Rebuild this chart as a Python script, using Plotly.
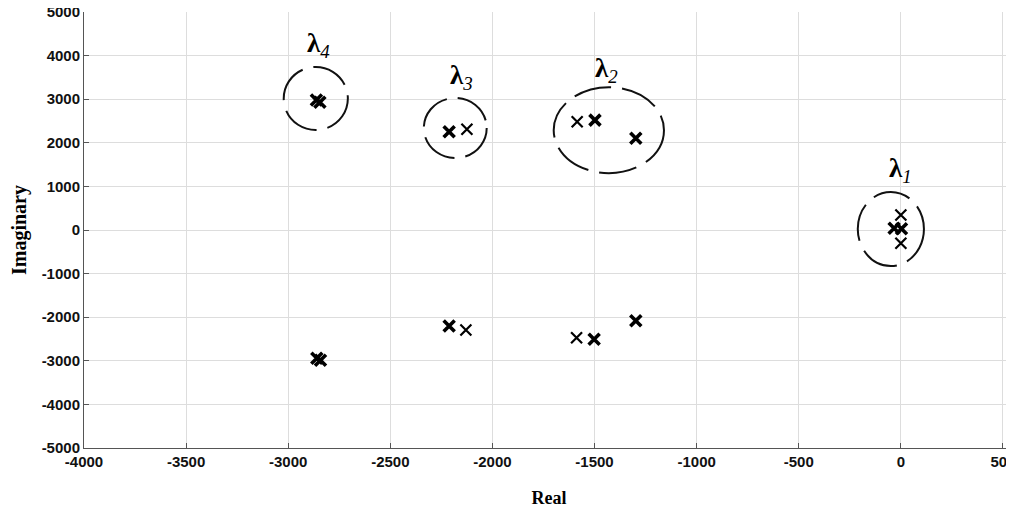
import numpy as np
import plotly.graph_objects as go

# Poles (real, imaginary)
pole_real = [-2862, -2845, -2860, -2842,
             -2212, -2125, -2212, -2130,
             -1585, -1498, -1298, -1588, -1502, -1298,
             0, -33, 3, 0]
pole_imag = [2980, 2930, -2940, -2985,
             2255, 2310, -2202, -2294,
             2484, 2520, 2103, -2470, -2507, -2080,
             344, 39, 30, -305]
pole_bold = [1, 1, 1, 1,
             1, 0, 1, 0,
             0, 1, 1, 0, 1, 1,
             0, 1, 1, 0]

# Cluster regions (centre real, centre imag, half-width real, half-height imag)
clu_names = ["λ4", "λ3", "λ2", "λ1"]
clu_cx = [-2865, -2182, -1430, -49]
clu_cy = [3016, 2339, 2290, 23]
clu_rx = [157, 154, 270, 162]
clu_ry = [722, 688, 986, 849]
lab_x = [-2850, -2150, -1440, 0]
lab_y = [4250, 3500, 3680, 1380]
lab_sub = ["4", "3", "2", "1"]

xticks = list(range(-4000, 501, 500))
yticks = list(range(-5000, 5001, 1000))

fig = go.Figure()

for cx, cy, rx, ry in zip(clu_cx, clu_cy, clu_rx, clu_ry):
    fig.add_shape(type="circle", xref="x", yref="y",
                  x0=cx - rx, x1=cx + rx, y0=cy - ry, y1=cy + ry,
                  line=dict(color="#111111", width=2, dash="38px,11px"))

widths = [3.6 if b else 2.2 for b in pole_bold]
fig.add_trace(go.Scatter(
    x=pole_real, y=pole_imag, mode="markers",
    marker=dict(symbol="x-thin", size=11, color="black",
                line=dict(color="black", width=widths)),
    showlegend=False, hoverinfo="x+y"))

for x, y, s in zip(lab_x, lab_y, lab_sub):
    fig.add_annotation(x=x, y=y, xref="x", yref="y", showarrow=False,
                       text=f"<b>λ</b><sub><i>{s}</i></sub>",
                       font=dict(family="Liberation Serif", size=27, color="black"))

tickfont = dict(family="Liberation Sans", size=15, color="#111111", weight="bold")

fig.update_xaxes(range=[-4000, 554], tickvals=xticks,
                 ticktext=[str(v) for v in xticks],
                 showgrid=True, gridcolor="#dddddd", gridwidth=1,
                 zeroline=False, showline=True, linecolor="#555555", linewidth=1,
                 ticks="inside", ticklen=5, tickcolor="#555555",
                 ticklabeloverflow="allow", automargin=False,
                 tickfont=tickfont,
                 title=dict(text="<b>Real</b>", standoff=22,
                            font=dict(family="Liberation Serif", size=18, color="black")))
fig.update_yaxes(range=[-5000, 5000], tickvals=yticks,
                 ticktext=[str(v) for v in yticks],
                 showgrid=True, gridcolor="#dddddd", gridwidth=1,
                 zeroline=False, showline=True, linecolor="#555555", linewidth=1,
                 ticks="inside", ticklen=5, tickcolor="#555555",
                 ticklabeloverflow="allow", automargin=False,
                 tickfont=tickfont,
                 title=dict(text="<b>Imaginary</b>", standoff=12,
                            font=dict(family="Liberation Serif", size=20, color="black")))

# the page adds an 8px body margin, so the figure is offset by 8px
fig.update_layout(width=1006, height=502, paper_bgcolor="white", plot_bgcolor="white",
                  margin=dict(l=76, r=0, t=4, b=62, autoexpand=False), showlegend=False)

fig.write_html("out.html")
